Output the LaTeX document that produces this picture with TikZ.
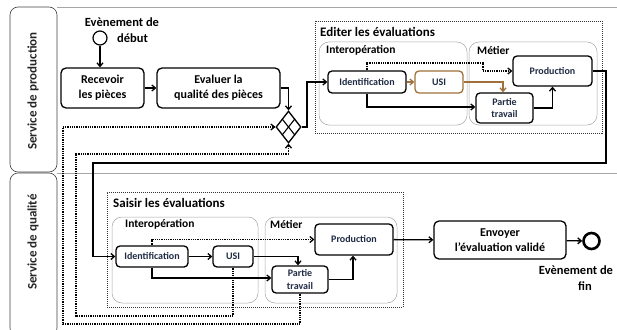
\documentclass[tikz,border=0pt]{standalone}
\usepackage{fontspec}
\setmainfont{Carlito}
\usetikzlibrary{arrows.meta,shapes.geometric,calc}
\definecolor{brn}{HTML}{A0703A}
\definecolor{navy}{HTML}{1F2A44}
\tikzset{
  task/.style={draw,line width=1.3pt,rounded corners=5pt,align=center,inner sep=0pt,font=\fontsize{12}{15}\selectfont\bfseries},
  smalltask/.style={draw,line width=1.3pt,rounded corners=4pt,align=center,inner sep=0pt,text=navy,font=\fontsize{10}{12.5}\selectfont\bfseries},
  grp/.style={draw=gray!70,line width=0.5pt,rounded corners=10pt},
  subproc/.style={draw=black!80,line width=0.6pt,dash pattern=on 1pt off 1pt},
  lanebox/.style={draw=black!75,line width=0.6pt,rounded corners=8pt},
  conn/.style={line width=1.3pt,-{Straight Barb[length=3.5pt,width=6pt]}},
  dconn/.style={line width=1.3pt,dash pattern=on 1pt off 0.8pt,-{Straight Barb[length=3.5pt,width=6pt]}},
  ttl/.style={anchor=west,inner sep=0pt,font=\fontsize{13}{15}\selectfont\bfseries},
  sttl/.style={anchor=west,inner sep=0pt,text=black,font=\fontsize{11.5}{13}\selectfont\bfseries},
  lbl/.style={inner sep=0pt,font=\fontsize{12.5}{14}\selectfont\bfseries},
  lanelbl/.style={inner sep=0pt,text=black!85,font=\fontsize{13}{15}\selectfont\bfseries},
}
\begin{document}
\begin{tikzpicture}[x=1pt,y=-1pt]
\useasboundingbox (0,0) rectangle (617,329);
% lanes
\draw[lanebox] (10,7) rectangle (57,172);
\begin{scope}
\clip (0,0) rectangle (617,329);
\draw[lanebox] (10,173) rectangle (57,336);
\end{scope}
\draw[gray!70,line width=0.6pt] (57,7) -- (617,7);
\draw[gray!70,line width=0.6pt] (57,173) -- (617,173);
\node[lanelbl,rotate=90] (lane1) at (33,91) {Service de production};
\node[lanelbl,rotate=90] (lane2) at (33,242) {Service de qualité};

% groups
\node[subproc,minimum width=287,minimum height=112,inner sep=0pt] (editbox) at (458.5,77) {};
\node[grp,minimum width=148,minimum height=83,inner sep=0pt] (interop1) at (393,83.5) {};
\node[grp,minimum width=128,minimum height=83,inner sep=0pt] (metier1) at (533,83.5) {};
\node[ttl] (t1) at (320,32) {Editer les évaluations};
\node[sttl] (t2) at (326,50) {Interopération};
\node[sttl] (t3) at (477,50) {Métier};

\node[subproc,minimum width=296,minimum height=115,inner sep=0pt] (saisirbox) at (255,249.5) {};
\node[grp,minimum width=146,minimum height=86,inner sep=0pt] (interop2) at (185,260) {};
\node[grp,minimum width=132,minimum height=86,inner sep=0pt] (metier2) at (331,260) {};
\node[ttl] (t4) at (113,203) {Saisir les évaluations};
\node[sttl] (t5) at (125,224) {Interopération};
\node[sttl] (t6) at (270,224) {Métier};

% events and tasks
\node[draw,circle,line width=1.2pt,minimum size=14pt,inner sep=0pt] (start) at (100,38) {};
\node[lbl] (st1) at (122,22) {Evènement de};
\node[lbl,anchor=west] (st2) at (117,38) {début};
\node[task,minimum width=83,minimum height=40] (recv) at (102.5,88) {Recevoir\\les pièces};
\node[task,minimum width=123,minimum height=40] (eval) at (218.5,88) {Evaluer la\\qualité des pièces};
\node[draw,diamond,line width=1.3pt,minimum width=25,minimum height=32,inner sep=0pt] (gw) at (288.5,127) {};
\draw[line width=1.1pt] ($(gw.north)!0.5!(gw.west)$) -- ($(gw.south)!0.5!(gw.east)$);
\draw[line width=1.1pt] ($(gw.north)!0.5!(gw.east)$) -- ($(gw.south)!0.5!(gw.west)$);

\node[smalltask,minimum width=78,minimum height=22] (id1) at (367,82) {Identification};
\node[smalltask,draw=brn,minimum width=48,minimum height=22] (usi1) at (439,82) {USI};
\node[smalltask,minimum width=79,minimum height=30] (prod1) at (552.5,71) {Production};
\node[smalltask,minimum width=57,minimum height=30] (pt1) at (504.5,108) {Partie\\travail};

\node[smalltask,minimum width=72,minimum height=21] (id2) at (152,256.5) {Identification};
\node[smalltask,minimum width=40,minimum height=21] (usi2) at (233,256.5) {USI};
\node[smalltask,minimum width=56,minimum height=27] (pt2) at (300,279.5) {Partie\\travail};
\node[smalltask,minimum width=78,minimum height=31] (prod2) at (354,239.5) {Production};
\node[task,minimum width=132,minimum height=38] (env) at (500,240) {Envoyer\\l'évaluation validé};
\node[draw,circle,line width=2.6pt,minimum size=16pt,inner sep=0pt] (end) at (591.5,241) {};
\node[lbl] (en1) at (576,270) {Evènement de};
\node[lbl] (en2) at (585,286) {fin};

% coordinates
\coordinate (c1) at (307,127);
\coordinate (c2) at (483,63);
\coordinate (c3) at (606,163);
\coordinate (c4) at (93,163);
\coordinate (c5) at (76,316);
\coordinate (c6) at (76,154);
\coordinate (c7) at (63,324);
\coordinate (c8) at (63,127);

% connectors top
\draw[conn] (start) -- (start |- recv.north);
\draw[conn] (recv) -- (eval);
\draw[conn] (eval.east) -| (gw.north);
\draw[conn] (gw.east) -- (c1) |- (id1.west);
\draw[conn,draw=brn] (id1) -- (usi1);
\draw[conn,draw=brn] (usi1.east) -| ($(pt1.north)+(-1.5,0)$);
\draw[conn] (id1.south) |- ($(pt1.west)+(0,-1)$);
\draw[dconn] (id1.north) |- (c2) |- (prod1.west);
\draw[conn] (pt1.east) -| (prod1.south);
\draw[conn] (prod1.east) -| (c3) -- (c4) |- (id2.west);

% connectors bottom
\draw[conn] (id2) -- (usi2);
\draw[conn] (usi2.east) -| ($(pt2.north)+(-2,0)$);
\draw[conn] (id2.south) |- ($(pt2.west)+(0,-1.5)$);
\draw[dconn] (id2.north) |- (prod2.west);
\draw[conn] (pt2.east) -| ($(prod2.south)+(-1,0)$);
\draw[conn] (prod2) -- (env);
\draw[conn] (env) -- (end);
\draw[dconn] (usi2.south) |- (c5) -- (c6) -| (gw.south);
\draw[dconn] (pt2.south) |- (c7) -- (c8) -- (gw.west);
\end{tikzpicture}
\end{document}
